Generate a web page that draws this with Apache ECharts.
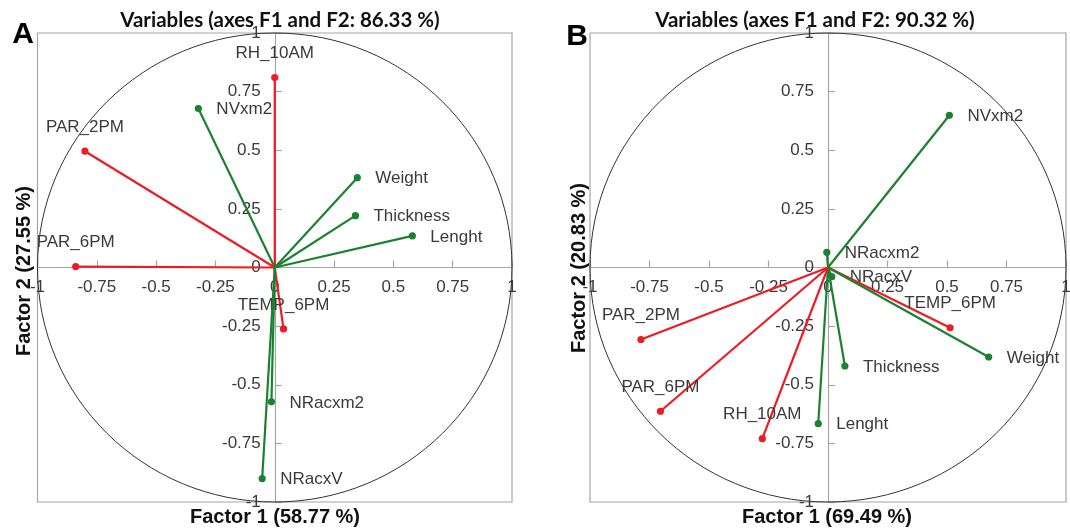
<!DOCTYPE html>
<html><head><meta charset="utf-8">
<script src="https://cdn.jsdelivr.net/npm/echarts@6/dist/echarts.min.js"></script>
<style>html,body{margin:0;padding:0;background:#fff}#c{width:1070px;height:530px}</style>
</head><body><div id="c"></div>
<script>
// ---- data ----
const namesA = ['RH_10AM','NVxm2','PAR_2PM','Weight','Thickness','Lenght','PAR_6PM','TEMP_6PM','NRacxm2','NRacxV'];
const f1A    = [0.00, -0.322, -0.80, 0.348, 0.34, 0.58, -0.839, 0.037, -0.014, -0.053];
const f2A    = [0.81,  0.678,  0.496, 0.383, 0.221, 0.135, 0.004, -0.262, -0.573, -0.90];
const groupA = ['env','plant','env','plant','plant','plant','env','env','plant','plant'];

const namesB = ['NVxm2','NRacxm2','NRacxV','TEMP_6PM','Weight','Thickness','Lenght','PAR_2PM','PAR_6PM','RH_10AM'];
const f1B    = [0.51, -0.005, 0.016, 0.513, 0.675, 0.071, -0.041, -0.786, -0.704, -0.276];
const f2B    = [0.649, 0.065, -0.039, -0.257, -0.382, -0.42, -0.666, -0.307, -0.613, -0.73];
const groupB = ['plant','plant','plant','env','plant','plant','plant','env','env','env'];

const titleA = 'Variables (axes F1 and F2: 86.33 %)';
const titleB = 'Variables (axes F1 and F2: 90.32 %)';
const xNameA = 'Factor 1 (58.77 %)', yNameA = 'Factor 2 (27.55 %)';
const xNameB = 'Factor 1 (69.49 %)', yNameB = 'Factor 2 (20.83 %)';
const axisMin = -1, axisMax = 1, axisStep = 0.25;

// ---- styles (label placement per variable) ----
const labelPosA = ['top','right','top','right','right','right','top','top','right','right'];
const labelPosB = ['right','right','right','top','right','right','right','top','top','top'];
const colors = { env: '#ec1c24', plant: '#1a8231' };
const axisGray = '#a6a6a6';
const txt = '#3a3a3a';
const labelFont = '17px "Liberation Sans", Arial, sans-serif';

function vectorRenderer(names, groups, pos) {
  return function (params, api) {
    const i = params.dataIndex;
    const o = api.coord([0, 0]);
    const p = api.coord([api.value(0), api.value(1)]);
    const c = colors[groups[i]];
    const top = pos[i] === 'top';
    return {
      type: 'group',
      children: [
        { type: 'line', shape: { x1: o[0], y1: o[1], x2: p[0], y2: p[1] },
          style: { stroke: c, lineWidth: 2.2 } },
        { type: 'circle', shape: { cx: p[0], cy: p[1], r: 3.6 }, style: { fill: c } },
        { type: 'text', x: top ? p[0] : p[0] + 18, y: top ? p[1] - 24 : p[1] + 1,
          style: { text: names[i], fill: txt, font: labelFont,
                   textAlign: top ? 'center' : 'left', textVerticalAlign: 'middle',
                   align: top ? 'center' : 'left', verticalAlign: 'middle' } }
      ]
    };
  };
}

function circleRenderer(params, api) {
  const o = api.coord([0, 0]);
  const s = api.size([1, 1]);
  return { type: 'ellipse', shape: { cx: o[0], cy: o[1], rx: s[0], ry: s[1] },
           style: { stroke: '#333', lineWidth: 1, fill: 'none' } };
}

const gridH = 469;
const gridWA = 474.5, gridWB = 476;

function xAx(g) {
  return { type: 'value', gridIndex: g, min: axisMin, max: axisMax, interval: axisStep,
    position: 'bottom', offset: -gridH / 2,
    axisLine: { show: true, onZero: false, lineStyle: { color: axisGray, width: 1.2 } },
    axisTick: { show: true, inside: true, length: 7, lineStyle: { color: axisGray, width: 1.2 } },
    axisLabel: { color: txt, fontSize: 17, fontFamily: 'Liberation Sans', margin: 11 },
    splitLine: { show: false } };
}
function yAx(g, w) {
  return { type: 'value', gridIndex: g, min: axisMin, max: axisMax, interval: axisStep,
    position: 'left', offset: -w / 2,
    axisLine: { show: true, onZero: false, lineStyle: { color: axisGray, width: 1.2 } },
    axisTick: { show: true, inside: true, length: 7, lineStyle: { color: axisGray, width: 1.2 } },
    axisLabel: { color: txt, fontSize: 17, fontFamily: 'Liberation Sans', margin: 14 },
    splitLine: { show: false } };
}

const chart = echarts.init(document.getElementById('c'), null, { renderer: 'canvas' });
const boldFont = 'bold 20px "Liberation Sans", Arial, sans-serif';
const titleFont = 'bold 20.5px Lato, "Open Sans", sans-serif';
const center = { textAlign: 'center', textVerticalAlign: 'middle', align: 'center', verticalAlign: 'middle' };
chart.setOption({
  backgroundColor: '#fff',
  animation: false,
  grid: [
    { left: 37.5, top: 33, width: gridWA, height: gridH, outerBoundsMode: 'none', containLabel: false, show: true, borderColor: axisGray, borderWidth: 1.2, backgroundColor: 'transparent' },
    { left: 590, top: 33, width: gridWB, height: gridH, outerBoundsMode: 'none', containLabel: false, show: true, borderColor: axisGray, borderWidth: 1.2, backgroundColor: 'transparent' }
  ],
  xAxis: [xAx(0), xAx(1)],
  yAxis: [yAx(0, gridWA), yAx(1, gridWB)],
  series: [
    { type: 'custom', xAxisIndex: 0, yAxisIndex: 0, clip: false, data: [[0, 0]], renderItem: circleRenderer, silent: true },
    { type: 'custom', xAxisIndex: 0, yAxisIndex: 0, clip: false,
      data: f1A.map((v, i) => [v, f2A[i]]), renderItem: vectorRenderer(namesA, groupA, labelPosA) },
    { type: 'custom', xAxisIndex: 1, yAxisIndex: 1, clip: false, data: [[0, 0]], renderItem: circleRenderer, silent: true },
    { type: 'custom', xAxisIndex: 1, yAxisIndex: 1, clip: false,
      data: f1B.map((v, i) => [v, f2B[i]]), renderItem: vectorRenderer(namesB, groupB, labelPosB) }
  ],
  graphic: [
    { type: 'text', x: 23, y: 35, style: Object.assign({ text: 'A', font: 'bold 30px "Liberation Sans", Arial, sans-serif', fill: '#000' }, center) },
    { type: 'text', x: 577, y: 37, style: Object.assign({ text: 'B', font: 'bold 30px "Liberation Sans", Arial, sans-serif', fill: '#000' }, center) },
    { type: 'text', x: 280, y: 20, style: Object.assign({ text: titleA, font: titleFont, fill: '#111' }, center) },
    { type: 'text', x: 815, y: 20, style: Object.assign({ text: titleB, font: titleFont, fill: '#111' }, center) },
    { type: 'text', x: 275, y: 517, style: Object.assign({ text: xNameA, font: boldFont, fill: '#111' }, center) },
    { type: 'text', x: 827, y: 517, style: Object.assign({ text: xNameB, font: boldFont, fill: '#111' }, center) },
    { type: 'text', x: 24, y: 271, rotation: Math.PI / 2, style: Object.assign({ text: yNameA, font: boldFont, fill: '#111' }, center) },
    { type: 'text', x: 579, y: 268, rotation: Math.PI / 2, style: Object.assign({ text: yNameB, font: boldFont, fill: '#111' }, center) }
  ]
});
</script></body></html>
